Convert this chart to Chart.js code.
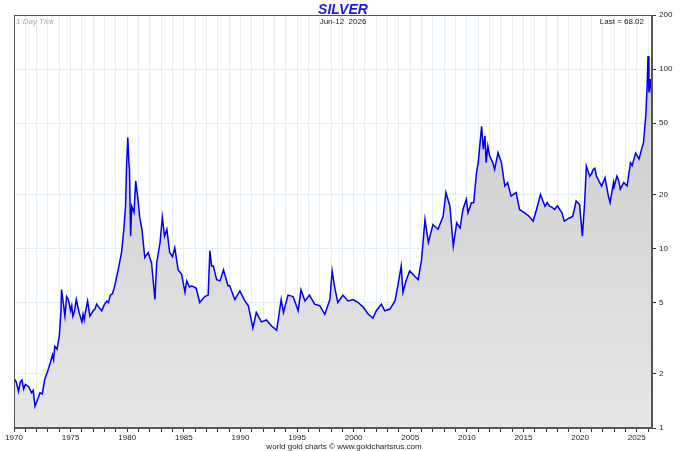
<!DOCTYPE html>
<html><head><meta charset="utf-8">
<script src="https://cdn.jsdelivr.net/npm/chart.js@4/dist/chart.umd.min.js"></script>
<style>html,body{margin:0;padding:0;background:#fff}#wrap{width:680px;height:451px;position:relative}</style>
</head><body><div id="wrap"><canvas id="c" width="680" height="451"></canvas></div>
<script>
const years = [1970.0,1970.2,1970.4,1970.55,1970.7,1970.85,1971.0,1971.3,1971.55,1971.7,1971.85,1972.1,1972.3,1972.5,1972.7,1973.0,1973.2,1973.4,1973.5,1973.6,1973.8,1974.0,1974.15,1974.2,1974.35,1974.5,1974.65,1974.8,1975.0,1975.1,1975.2,1975.35,1975.5,1975.75,1976.0,1976.1,1976.2,1976.3,1976.5,1976.7,1977.0,1977.15,1977.3,1977.5,1977.75,1978.0,1978.2,1978.35,1978.5,1978.7,1978.9,1979.2,1979.5,1979.7,1979.85,1979.95,1980.05,1980.15,1980.2,1980.3,1980.4,1980.6,1980.75,1980.95,1981.1,1981.3,1981.55,1981.85,1982.15,1982.45,1982.6,1982.9,1983.1,1983.3,1983.5,1983.75,1984.0,1984.2,1984.5,1984.8,1985.1,1985.25,1985.5,1985.7,1986.1,1986.4,1986.85,1987.15,1987.3,1987.45,1987.6,1987.9,1988.2,1988.5,1988.9,1989.05,1989.5,1989.95,1990.4,1990.7,1991.1,1991.4,1991.85,1992.3,1992.75,1993.2,1993.6,1993.8,1994.2,1994.65,1995.1,1995.35,1995.7,1996.1,1996.55,1997.0,1997.45,1997.9,1998.1,1998.3,1998.6,1999.05,1999.5,1999.95,2000.4,2000.85,2001.3,2001.7,2002.0,2002.45,2002.75,2003.2,2003.65,2003.9,2004.2,2004.35,2004.65,2004.95,2005.4,2005.7,2006.0,2006.3,2006.6,2007.0,2007.45,2007.9,2008.15,2008.5,2008.8,2009.1,2009.4,2009.65,2009.95,2010.1,2010.4,2010.6,2010.85,2011.0,2011.3,2011.45,2011.6,2011.7,2011.85,2012.0,2012.15,2012.3,2012.45,2012.75,2013.05,2013.35,2013.6,2013.9,2014.35,2014.65,2015.1,2015.5,2015.85,2016.15,2016.5,2016.7,2016.9,2017.1,2017.3,2017.5,2017.75,2018.0,2018.2,2018.4,2018.6,2019.05,2019.35,2019.65,2019.95,2020.2,2020.4,2020.55,2020.85,2021.0,2021.15,2021.3,2021.45,2021.7,2021.9,2022.2,2022.5,2022.65,2022.95,2023.0,2023.25,2023.4,2023.55,2023.85,2024.15,2024.45,2024.6,2024.75,2024.9,2025.05,2025.2,2025.35,2025.6,2025.8,2025.92,2026.0,2026.08,2026.2,2026.35];
const prices = [1.9,1.8,1.6,1.8,1.85,1.65,1.75,1.7,1.57,1.62,1.32,1.45,1.57,1.55,1.85,2.1,2.3,2.55,2.4,2.85,2.75,3.25,4.5,5.9,5.0,4.2,5.4,5.2,4.5,4.8,4.2,4.5,5.2,4.4,3.9,4.3,4.0,4.4,5.1,4.2,4.5,4.6,4.9,4.7,4.5,4.9,5.1,5.0,5.5,5.6,6.2,7.6,9.5,12.8,17.2,30,41.5,30,27.6,11.7,17.2,15.9,23.8,18.8,15,12.8,8.9,9.5,8.3,5.2,8.3,10.8,14.9,11.7,12.8,9.5,9,10.1,7.6,7.2,5.7,6.6,6.1,6.2,6.0,5.0,5.4,5.5,9.7,8,8.0,6.7,6.6,7.6,6.2,6.2,5.2,5.8,5.1,4.8,3.6,4.4,3.9,4.0,3.7,3.5,5.2,4.4,5.5,5.4,4.5,5.9,5.1,5.5,4.9,4.8,4.3,5.2,7.5,6.2,5.0,5.5,5.1,5.2,5.0,4.7,4.3,4.1,4.5,4.9,4.5,4.6,5.1,6.2,8.0,5.7,6.7,7.5,7.0,6.7,8.7,14.5,10.8,13.6,12.8,15.1,20.5,17.2,10.3,13.9,13,16.5,18.8,15.8,18.0,18,26.5,30.1,48,35.7,42.4,30.1,37.3,33,31.4,30,27.6,34.2,30.1,22.3,23.3,19.6,20.5,16.5,15.8,15.1,14.2,16.5,20.0,18.5,17.2,18,17.2,17,16.5,17.3,16.5,15.8,14.2,14.8,15.1,18.4,17.6,11.7,18,28.8,25.3,26,27.6,28,25.3,23.5,22.3,24.8,19.6,18,23.3,22,25.3,24,21.4,23.3,22.3,30.1,29,31.4,34,32.8,31.5,34.2,39,55,80,118,74,88,68];
const yTickValues = [1,2,5,10,20,50,100,200];
const xFirstYear = 1970, xLastTickYear = 2026, xMax = 2026.35, xLabelStep = 5;
const titleText = 'SILVER', dateText = 'Jun-12  2026', tickText = '1 Day Tick', lastText = 'Last = 68.02';
const footerText = 'world gold charts \u00a9 www.goldchartsrus.com';

const FONT = '"Liberation Sans", Arial, sans-serif';
const gridBlue = '#e6eef5';

const textPlugin = {
  id: 'texts',
  afterDraw(chart) {
    const c = chart.ctx, a = chart.chartArea;
    c.save();
    c.strokeStyle = '#555'; c.lineWidth = 1;
    c.strokeRect(Math.round(a.left)+0.5, Math.round(a.top)+0.5, Math.round(a.right-a.left)-1, Math.round(a.bottom-a.top)-1);
    c.textBaseline = 'alphabetic';
    c.fillStyle = '#1a1ae6'; c.font = 'italic bold 14px ' + FONT; c.textAlign = 'center';
    c.fillText(titleText, 343, 14);
    c.fillStyle = '#222'; c.font = '8px ' + FONT;
    c.fillText(dateText, 343, 24);
    c.textAlign = 'right'; c.fillText(lastText, 644, 24);
    c.textAlign = 'left'; c.fillStyle = '#aaa'; c.font = 'italic 8px ' + FONT;
    c.fillText(tickText, 16, 24);
    c.textAlign = 'center'; c.fillStyle = '#222'; c.font = '8px ' + FONT;
    c.fillText(footerText, 344, 449);
    c.restore();
  }
};

new Chart(document.getElementById('c'), {
  type: 'line',
  data: {
    datasets: [{
      data: years.map((t, i) => ({x: t, y: prices[i]})),
      borderColor: '#0000ee',
      borderWidth: 1.5,
      pointRadius: 0,
      tension: 0,
      fill: 'start',
      backgroundColor: (ctx) => {
        const ch = ctx.chart, a = ch.chartArea;
        if (!a) return '#dddddd';
        const g = ch.ctx.createLinearGradient(0, a.top, 0, a.bottom);
        g.addColorStop(0, '#c8c8c8');
        g.addColorStop(1, '#e7e7e7');
        return g;
      }
    }]
  },
  options: {
    responsive: false, animation: false, devicePixelRatio: 1,
    layout: {padding: {left: 14, top: 15, right: 0, bottom: 0}},
    plugins: {legend: {display: false}, tooltip: {enabled: false}, title: {display: false}},
    scales: {
      x: {
        type: 'linear', min: xFirstYear, max: xMax,
        afterBuildTicks: (s) => { const t = []; for (let y = xFirstYear; y <= xLastTickYear; y++) t.push({value: y}); s.ticks = t; },
        afterFit: (s) => { s.height = 23; },
        ticks: {autoSkip: false, maxRotation: 0, minRotation: 0, padding: 1, color: '#222', font: {family: FONT, size: 8},
          callback: (v) => (v % xLabelStep === 0 ? String(v) : '')},
        grid: {color: gridBlue, tickColor: '#333', tickLength: 4, drawOnChartArea: true},
        border: {color: '#555'}
      },
      y: {
        type: 'logarithmic', position: 'right', min: 1, max: 200,
        afterBuildTicks: (s) => { s.ticks = yTickValues.map(v => ({value: v})); },
        afterFit: (s) => { s.width = 28; },
        ticks: {autoSkip: false, padding: 3, color: '#222', font: {family: FONT, size: 8}, callback: (v) => String(v)},
        grid: {color: gridBlue, tickColor: '#333', tickLength: 4},
        border: {color: '#555'}
      }
    }
  },
  plugins: [textPlugin]
});
</script></body></html>
